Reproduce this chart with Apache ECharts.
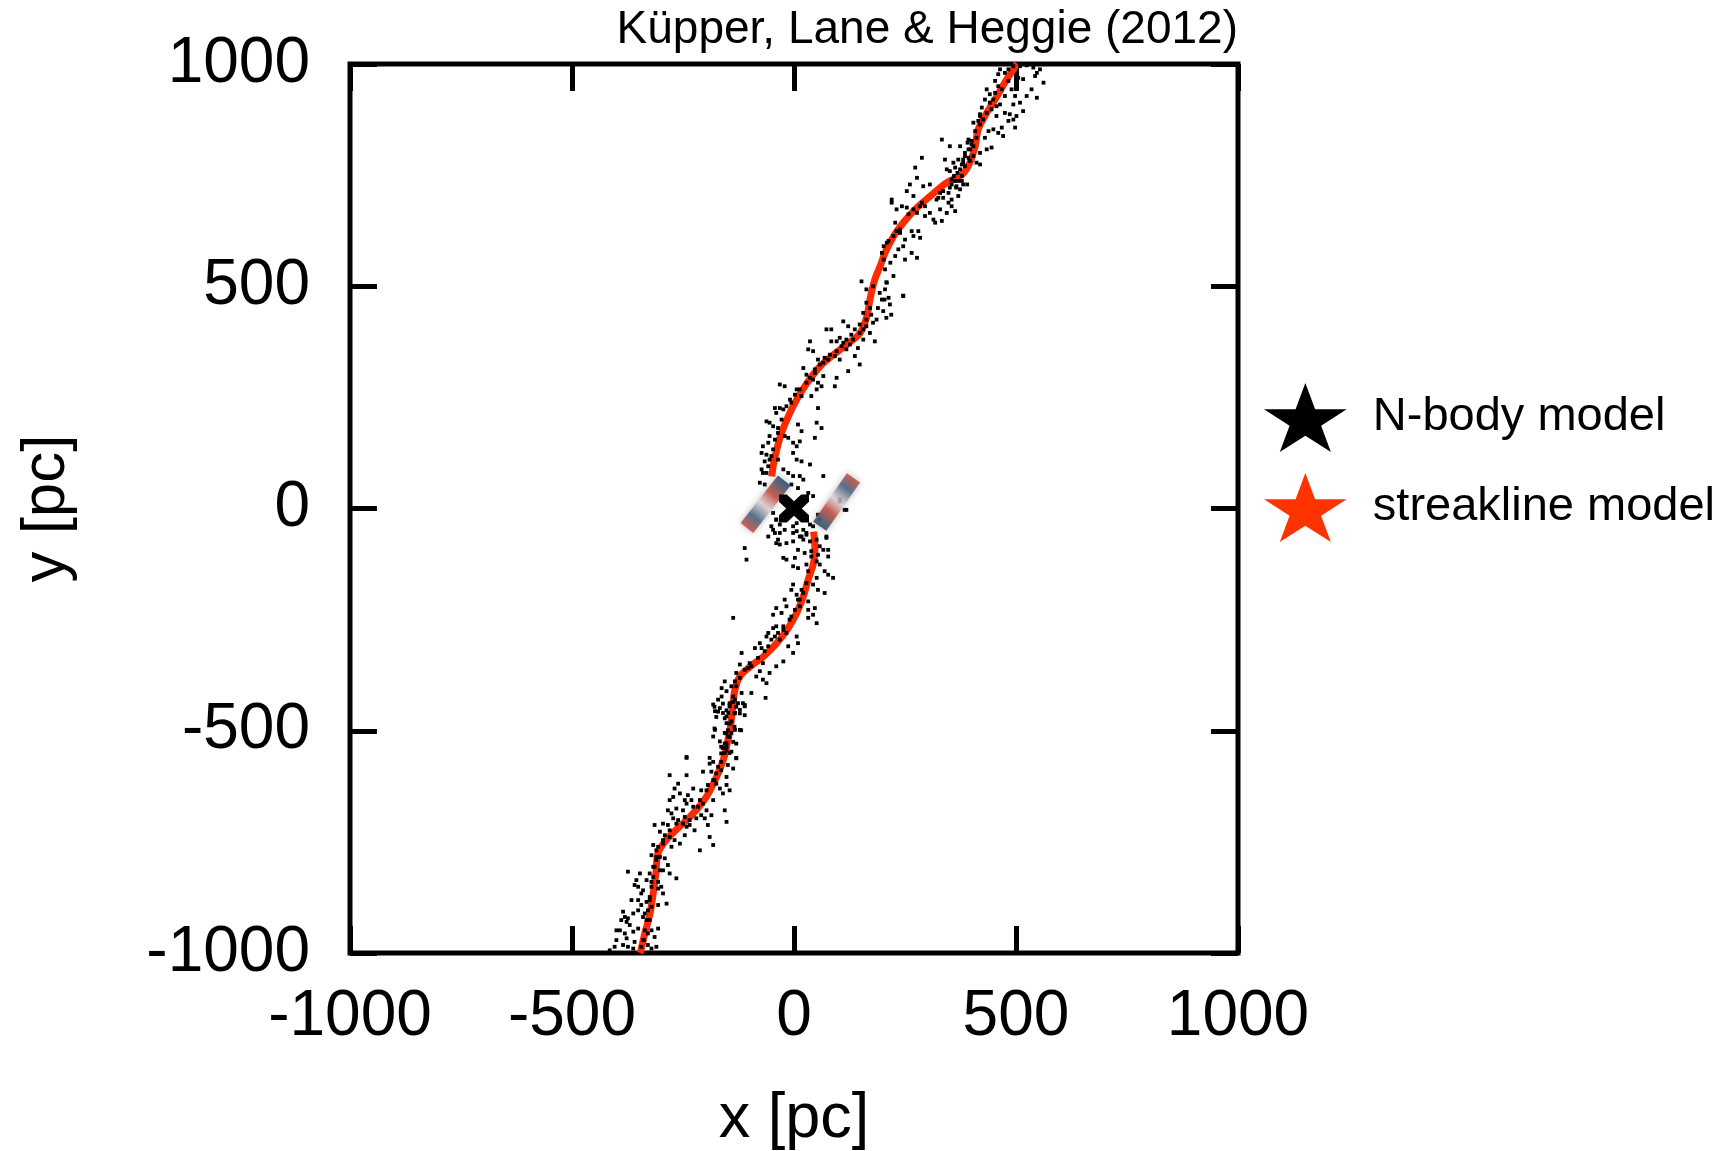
<!DOCTYPE html>
<html>
<head>
<meta charset="utf-8">
<script src="https://cdn.jsdelivr.net/npm/echarts@6/dist/echarts.min.js"></script>
<style>
html,body{margin:0;padding:0;background:#fff;}
#chart{width:1730px;height:1151px;}
</style>
</head>
<body>
<div id="chart"></div>
<script>
// ---------------- data ----------------
var titleText = 'Küpper, Lane & Heggie (2012)';
var xTicks = [-1000, -500, 0, 500, 1000];
var yTicks = [-1000, -500, 0, 500, 1000];
var legendNames = ['N-body model', 'streakline model'];

// streakline model: leading (upper) arm and trailing (lower) arm, [x, y] in pc
var streakUpper = [
  [503,1000],[501,998],[479,965],[457,927],[434,890],[415,853],[408,815],[396,778],[378,751],
  [344,733],[306,702],[276,676],[246,643],[224,612],[205,575],[194,545],[182,515],
  [171,470],[164,432],[149,395],[119,369],[89,346],[59,320],[29,282],[6,245],
  [-13,207],[-28,170],[-39,132],[-47,95],[-50,72]
];
var streakLower = [
  [44,-52],[47,-85],[44,-123],[32,-160],[21,-198],[6,-235],[-13,-269],[-39,-303],
  [-69,-333],[-99,-356],[-122,-378],[-133,-408],[-138,-446],[-143,-491],[-152,-536],
  [-159,-565],[-174,-603],[-197,-648],[-227,-686],[-257,-715],[-287,-745],[-306,-775],
  [-311,-820],[-317,-865],[-324,-910],[-336,-956],[-345,-995],[-347,-1000]
];

// N-body model particles, [x, y] in pc
var nbodyDots = [
  [464,988],[475,980],[483,988],[509,995],[524,997],[539,992],[547,980],[554,988],[543,973],[562,958],
  [516,966],[505,969],[535,943],[524,928],[547,924],[509,913],[516,894],[501,883],[494,875],[486,887],
  [475,890],[456,883],[464,909],[475,928],[453,935],[460,950],[453,962],[449,920],[441,913],[423,902],
  [419,887],[426,875],[419,864],[404,868],[393,830],[400,827],[411,834],[430,834],[438,849],[449,853],
  [460,845],[468,857],[471,838],[483,872],[498,857],[445,812],[434,808],[419,800],[404,793],[396,782],
  [411,778],[419,774],[385,770],[374,763],[363,767],[351,759],[344,763],[355,740],[366,725],[374,718],
  [381,729],[390,729],[370,785],[359,778],[340,785],[333,830],[351,815],[374,815],[288,789],[273,767],
  [277,744],[306,729],[291,725],[261,729],[254,714],[269,703],[288,688],[295,680],[306,665],[314,650],
  [329,673],[325,699],[336,699],[348,688],[355,680],[363,669],[344,665],[333,647],[318,643],[295,658],
  [277,665],[254,677],[243,680],[231,673],[220,695],[220,688],[228,643],[231,624],[239,620],[250,605],
  [265,624],[280,624],[284,609],[269,613],[246,590],[235,583],[228,568],[209,598],[202,590],[198,575],
  [250,560],[265,575],[277,564],[217,553],[205,538],[224,523],[209,508],[205,493],[213,474],[246,478],
  [198,470],[419,883],[415,872],[408,849],[400,819],[393,808],[385,793],[381,778],[378,748],[370,737],
  [363,737],[351,722],[336,714],[329,710],[321,695],[284,680],[269,673],[258,662],[239,628],[224,613],
  [213,602],[202,560],[460,977],[494,995],
  [391,823],[397,808],[404,815],[385,800],[393,789],[381,785],[378,774],[368,755],[360,748],[378,737],
  [365,722],[355,729],[348,710],[370,703],[355,695],[434,943],[441,932],[430,920],[445,898],[434,890],
  [456,905],[468,943],[483,962],[490,943],[498,928],[494,909],
  [152,511],[163,493],[178,500],[208,509],[193,485],[204,470],[216,459],[246,479],[219,436],[208,429],
  [201,444],[189,451],[186,425],[178,418],[163,410],[156,403],[148,395],[171,395],[182,376],[156,380],
  [144,361],[133,380],[126,369],[118,358],[111,373],[103,384],[96,376],[84,376],[73,403],[84,403],
  [111,421],[122,410],[137,343],[148,324],[122,309],[103,335],[92,343],[77,335],[66,328],[54,335],
  [43,354],[32,358],[36,376],[47,313],[21,316],[28,301],[43,290],[54,283],[62,275],[66,298],
  [96,294],[92,275],[51,268],[39,253],[17,253],[6,268],[-21,275],[-32,279],[-6,238],[-17,230],
  [-32,226],[-40,215],[-43,226],[-55,193],[-62,196],[-47,185],[-36,170],[-21,163],[-13,159],[-2,148],
  [9,189],[17,174],[6,140],[13,151],[-2,125],[6,110],[17,106],[36,99],[54,226],[51,193],
  [62,181],[47,159],[-55,163],[-58,148],[-70,140],[-73,125],[-62,121],[-66,106],[-51,118],[-36,110],
  [-24,88],[-13,80],[-2,73],[13,73],[21,65],[-73,88],[-70,80],[-77,58],[-66,54],[-6,54],
  [9,46],[32,35],[43,28],[103,20],[118,-3],[66,73],[-47,-10],[-40,-25],[-51,-40],[-32,-55],
  [-2,-40],[6,-33],[21,-48],[28,-55],[36,-36],[43,-40],[17,-63],[73,-63],[58,-25],[54,-14],
  [163,463],[171,451],[156,440],[174,436],[163,425],[148,414],[137,403],[129,391],[118,380],[107,365],
  [96,354],[81,346],[69,339],[58,324],[47,305],[36,294],[28,283],[13,268],[2,256],[-9,245],
  [-24,223],[-28,200],[-36,181],[-43,155],[-47,133],[-55,110],[-58,95],[-62,80],
  [-40,-25],[-32,-36],[-21,-48],[-43,-55],[-36,-70],[-40,-78],[-58,-63],[-17,-78],[-32,-81],[6,-51],
  [13,-63],[-2,-74],[21,-70],[28,-59],[36,-74],[51,-70],[58,-85],[66,-93],[77,-93],[73,-66],
  [9,-93],[24,-100],[39,-96],[54,-104],[51,-119],[58,-126],[77,-108],[2,-111],[-17,-115],[-24,-111],
  [-2,-130],[9,-134],[28,-126],[69,-141],[77,-149],[88,-156],[51,-156],[43,-171],[54,-183],[69,-190],
  [-2,-171],[-6,-183],[6,-194],[21,-190],[32,-209],[13,-220],[9,-205],[-21,-205],[-17,-220],[-40,-224],
  [-28,-235],[-47,-239],[-6,-243],[32,-228],[47,-224],[43,-239],[51,-258],[32,-246],[-137,-246],[-40,-265],
  [-24,-273],[-17,-280],[-47,-269],[-58,-280],[-62,-288],[-43,-288],[-32,-295],[6,-288],[9,-303],[-13,-310],
  [-77,-303],[-88,-314],[-73,-314],[-58,-310],[-2,-325],[-24,-344],[-40,-355],[-55,-370],[-70,-348],[-77,-366],
  [-85,-378],[-70,-385],[-62,-393],[-96,-355],[-103,-359],[-122,-351],[-118,-325],[-130,-370],[-133,-389],[-141,-400],
  [-156,-389],[-163,-404],[-152,-411],[-163,-423],[-171,-430],[-182,-441],[-178,-456],[-167,-449],[-160,-460],[-145,-445],
  [-133,-430],[-126,-438],[-118,-415],[-115,-438],[-111,-445],[-122,-453],[-133,-460],[-152,-468],[-141,-479],[-133,-498],
  [-122,-498],[-141,-505],[-156,-505],[-178,-498],[-182,-513],[-167,-524],[-152,-528],[-160,-539],[-145,-550],[-130,-561],
  [-190,-561],[-242,-561],[-64,-426],[-96,-415],[-107,-115],[-111,-89],[-2,-55],[-47,-48],[114,-3],[103,16],
  [39,-108],[32,-141],[28,-168],[17,-183],[13,-205],[2,-228],[-10,-250],[-24,-265],[-36,-280],[-51,-295],
  [-66,-321],[-81,-336],[-100,-348],[-111,-363],[-122,-381],[-130,-400],[-137,-423],[-145,-438],[-148,-460],[-152,-483],
  [-148,-513],[-156,-550],
  [-179,-446],[-171,-457],[-160,-439],[-152,-454],[-145,-442],[-130,-446],[-122,-461],[-111,-442],[-111,-465],[-175,-469],
  [-156,-472],[-145,-484],[-134,-491],[-119,-499],[-179,-495],[-152,-506],[-145,-514],[-137,-525],[-130,-529],[-156,-529],
  [-164,-536],[-152,-544],[-141,-547],[-130,-562],[-164,-551],[-182,-570],[-190,-574],[-186,-592],[-175,-596],[-179,-611],
  [-164,-589],[-149,-577],[-137,-585],[-152,-604],[-152,-622],[-145,-634],[-160,-641],[-167,-630],[-175,-619],[-194,-622],
  [-209,-634],[-227,-630],[-239,-645],[-246,-656],[-257,-641],[-272,-649],[-280,-656],[-284,-679],[-276,-686],[-265,-675],
  [-250,-679],[-242,-664],[-231,-656],[-216,-671],[-205,-664],[-197,-679],[-209,-690],[-201,-697],[-186,-690],[-220,-697],
  [-235,-701],[-242,-716],[-250,-709],[-261,-701],[-272,-697],[-284,-712],[-295,-709],[-314,-712],[-302,-727],[-291,-735],
  [-280,-739],[-269,-746],[-257,-754],[-246,-735],[-224,-724],[-235,-712],[-276,-761],[-295,-754],[-310,-769],[-317,-757],
  [-321,-780],[-310,-791],[-302,-784],[-291,-787],[-284,-802],[-295,-814],[-317,-806],[-325,-821],[-332,-836],[-321,-840],
  [-306,-840],[-302,-814],[-306,-855],[-295,-866],[-299,-851],[-265,-832],[-280,-821],[-355,-836],[-347,-821],[-374,-817],
  [-359,-847],[-351,-851],[-340,-859],[-344,-866],[-325,-881],[-332,-885],[-321,-896],[-306,-892],[-287,-889],[-344,-892],
  [-351,-904],[-362,-911],[-374,-922],[-385,-907],[-381,-919],[-377,-930],[-389,-926],[-392,-949],[-400,-949],[-381,-956],
  [-370,-937],[-362,-952],[-351,-945],[-340,-919],[-325,-926],[-321,-949],[-329,-956],[-314,-964],[-310,-986],[-306,-945],
  [-340,-971],[-359,-975],[-377,-967],[-400,-971],[-404,-986],[-385,-982],[-374,-986],[-362,-990],[-344,-986],[-321,-990],
  [-329,-982],[-415,-994],[-242,-559],[-212,-769],[-182,-757],[-190,-739],[-152,-705],[-156,-679],[-280,-600],[-261,-619],
  [-269,-630],[-242,-600],[-205,-592],[-182,-656],[-194,-712],[-366,-881],[-351,-881],[-336,-911],
  [-137,-435],[-134,-461],[-149,-499],[-152,-536],[-164,-570],[-171,-581],[-182,-611],[-197,-634],[-212,-656],[-227,-671],
  [-246,-694],[-265,-709],[-280,-724],[-295,-746],[-306,-761],[-310,-784],[-314,-806],[-317,-829],[-321,-851],[-325,-874],
  [-329,-904],[-332,-926],[-336,-949],[-338,-971]
];

// cluster centre and the two epicyclic over-density bars (endpoints, pc)
var clusterCenter = [[0, 0]];
var barLeft = [[-106, -44], [-22, 63]];
var barRight = [[134, 69], [58, -40]];

// ---------------- chart ----------------
var FONT = "'Liberation Sans', Arial, Helvetica, sans-serif";
var RED = '#ff2a00';
var STAR = 'path://M57,0L69.8,34.55L111.2,34.55L77.7,55.9L90.5,90.45L57,69.1L23.5,90.45L36.3,55.9L2.8,34.55L44.2,34.55Z';
var CROSS = 'path://M0,0L26,0L50,24L74,0L100,0L100,26L76,50L100,74L100,100L74,100L50,76L26,100L0,100L0,74L24,50L0,26Z';

function barGradient(x, y, x2, y2) {
  return new echarts.graphic.LinearGradient(x, y, x2, y2, [
    {offset: 0, color: 'rgba(215,60,40,0.85)'},
    {offset: 0.12, color: 'rgba(215,70,50,0.85)'},
    {offset: 0.3, color: 'rgba(70,100,130,0.85)'},
    {offset: 0.48, color: 'rgba(225,210,210,0.7)'},
    {offset: 0.64, color: 'rgba(200,75,60,0.85)'},
    {offset: 0.82, color: 'rgba(60,90,115,0.9)'},
    {offset: 1, color: 'rgba(30,55,75,0.95)'}
  ]);
}

var axisCommon = {
  type: 'value', min: -1000, max: 1000, interval: 500,
  splitLine: {show: false},
  axisLine: {show: false, onZero: false},
  axisTick: {show: true, inside: true, length: 27, lineStyle: {color: '#000', width: 5}}
};

var chart = echarts.init(document.getElementById('chart'), null, {renderer: 'canvas'});
chart.setOption({
  animation: false,
  backgroundColor: '#fff',
  title: {
    text: titleText, right: 492, top: 7, padding: 0,
    textStyle: {fontFamily: FONT, fontSize: 46, fontWeight: 'normal', color: '#000'}
  },
  legend: {
    orient: 'vertical', left: 1264, top: 383, padding: 0,
    itemWidth: 83, itemHeight: 69, itemGap: 21,
    textStyle: {fontFamily: FONT, fontSize: 47, color: '#000', padding: [0, 0, 0, 21]},
    data: [
      {name: legendNames[0], icon: STAR, itemStyle: {color: '#000', opacity: 1}},
      {name: legendNames[1], icon: STAR, itemStyle: {color: '#ff3300', opacity: 1}}
    ]
  },
  grid: {
    left: 350, right: 492, top: 64, bottom: 198, containLabel: false, outerBoundsMode: 'none',
    show: true, borderWidth: 5, borderColor: '#000', backgroundColor: 'transparent'
  },
  xAxis: [
    Object.assign({}, axisCommon, {
      position: 'bottom', name: 'x [pc]', nameLocation: 'middle', nameGap: 135,
      nameTextStyle: {fontFamily: FONT, fontSize: 63, color: '#000'},
      axisLabel: {fontFamily: FONT, fontSize: 64, color: '#000', margin: 32,
        formatter: function (v) { return xTicks.indexOf(v) >= 0 ? String(v) : ''; }}
    }),
    Object.assign({}, axisCommon, {position: 'top', axisLabel: {show: false}})
  ],
  yAxis: [
    Object.assign({}, axisCommon, {
      position: 'left', name: 'y [pc]', nameLocation: 'middle', nameGap: 272,
      nameTextStyle: {fontFamily: FONT, fontSize: 62, color: '#000'},
      axisLabel: {fontFamily: FONT, fontSize: 64, color: '#000', margin: 40,
        formatter: function (v) { return yTicks.indexOf(v) >= 0 ? String(v) : ''; }}
    }),
    Object.assign({}, axisCommon, {position: 'right', axisLabel: {show: false}})
  ],
  series: [
    {
      name: legendNames[1], type: 'line', data: streakUpper, smooth: 0.35,
      symbol: 'none', z: 2, lineStyle: {color: RED, width: 7}, itemStyle: {color: RED}
    },
    {
      name: legendNames[1], type: 'line', data: streakLower, smooth: 0.35,
      symbol: 'none', z: 2, lineStyle: {color: RED, width: 7}, itemStyle: {color: RED}
    },
    {
      name: legendNames[0], type: 'scatter', data: nbodyDots, symbol: 'rect', symbolSize: 3.8,
      z: 3, itemStyle: {color: '#000', opacity: 1}
    },
    {
      name: 'barL', type: 'line', data: barLeft, symbol: 'none', z: 4,
      lineStyle: {width: 16, color: barGradient(0, 1, 1, 0), shadowBlur: 7, shadowColor: 'rgba(120,120,140,0.6)'}
    },
    {
      name: 'barR', type: 'line', data: barRight, symbol: 'none', z: 4,
      lineStyle: {width: 16, color: barGradient(1, 0, 0, 1), shadowBlur: 7, shadowColor: 'rgba(120,120,140,0.6)'}
    },
    {
      name: 'centre', type: 'scatter', data: clusterCenter, symbol: CROSS, symbolSize: [30, 28],
      z: 5, itemStyle: {color: '#000', opacity: 1}
    }
  ]
});
</script>
</body>
</html>
